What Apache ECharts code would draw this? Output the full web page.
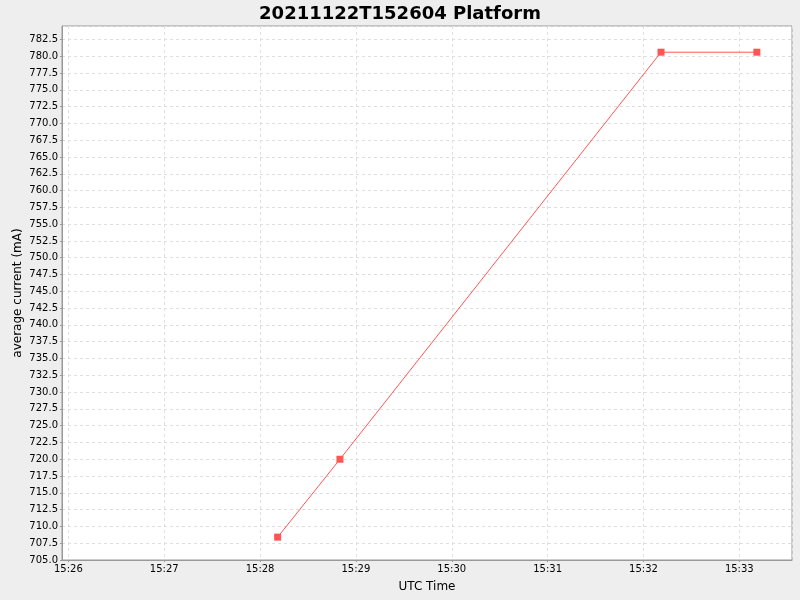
<!DOCTYPE html>
<html>
<head>
<meta charset="utf-8">
<script src="https://cdn.jsdelivr.net/npm/echarts@6/dist/echarts.min.js"></script>
<style>
html,body{margin:0;padding:0;background:#eeeeee;}
#chart{width:800px;height:600px;}
</style>
</head>
<body>
<div id="chart"></div>
<script>
// Data
const times = ['2021-11-22T15:28:11Z', '2021-11-22T15:28:50Z', '2021-11-22T15:32:11Z', '2021-11-22T15:33:11Z'];
const currents = [708.4, 720.0, 780.6, 780.6];
const chartTitle = '20211122T152604 Platform';
const xName = 'UTC Time';
const yName = 'average current (mA)';

const xMin = Date.parse('2021-11-22T15:25:56Z');
const xMax = Date.parse('2021-11-22T15:33:33Z');

const seriesData = times.map((t, i) => [Date.parse(t), currents[i]]);

function pad(n){ return (n < 10 ? '0' : '') + n; }

const chart = echarts.init(document.getElementById('chart'));
chart.setOption({
  backgroundColor: '#eeeeee',
  animation: false,
  title: {
    text: chartTitle,
    left: 'center',
    top: 0,
    textStyle: { fontFamily: 'DejaVu Sans', fontWeight: 'bold', fontSize: 18, color: '#000' }
  },
  grid: {
    left: 62, right: 8, top: 26, bottom: 40,
    show: true, backgroundColor: '#ffffff', borderColor: '#999999', borderWidth: 1
  },
  xAxis: {
    type: 'time',
    min: xMin, max: xMax,
    minInterval: 60000, maxInterval: 60000,
    name: xName,
    nameLocation: 'middle',
    nameGap: 21,
    nameMoveOverlap: false,
    nameTextStyle: { fontFamily: 'DejaVu Sans', fontSize: 12, color: '#000' },
    axisLine: { show: true, lineStyle: { color: '#999999' } },
    axisTick: { show: true, length: 2, lineStyle: { color: '#999999' } },
    axisLabel: {
      fontFamily: 'DejaVu Sans', fontSize: 10, color: '#000', margin: 4,
      showMinLabel: false, showMaxLabel: false,
      formatter: function (v) { const d = new Date(v); return pad(d.getUTCHours()) + ':' + pad(d.getUTCMinutes()); }
    },
    splitLine: { show: true, lineStyle: { color: '#dedede', type: [3, 3] } }
  },
  yAxis: {
    type: 'value',
    min: 705, max: 784.5, interval: 2.5,
    name: yName,
    nameLocation: 'middle',
    nameGap: 38,
    nameMoveOverlap: false,
    nameTextStyle: { fontFamily: 'DejaVu Sans', fontSize: 12, color: '#000' },
    axisLine: { show: true, lineStyle: { color: '#999999' } },
    axisTick: { show: true, length: 2, lineStyle: { color: '#999999' } },
    axisLabel: {
      fontFamily: 'DejaVu Sans', fontSize: 10, color: '#000', margin: 4,
      showMaxLabel: false,
      formatter: function (v) { return v.toFixed(1); }
    },
    splitLine: { show: true, lineStyle: { color: '#dedede', type: [3, 3] } }
  },
  series: [{
    type: 'line',
    data: seriesData,
    symbol: 'rect',
    symbolSize: 7,
    itemStyle: { color: '#ff5555' },
    lineStyle: { color: '#ff5555', width: 1 }
  }]
});
</script>
</body>
</html>
